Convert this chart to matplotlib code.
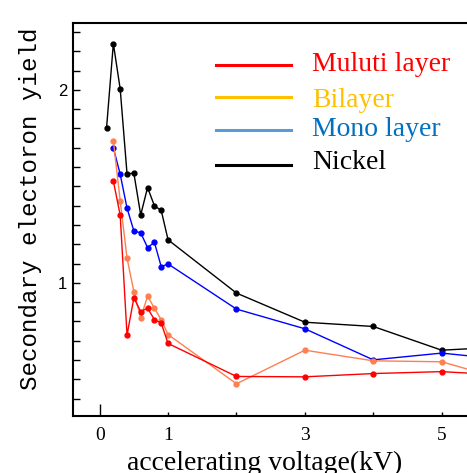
import numpy as np
import matplotlib
matplotlib.use("Agg")
from matplotlib import pyplot as plt
from matplotlib.ticker import MultipleLocator, FixedLocator

# accelerating voltage (kV)
volt_ni = [0.1, 0.2, 0.3, 0.4, 0.5, 0.6, 0.7, 0.8, 0.9, 1.0, 2, 3, 4, 5, 6]
volt = [0.2, 0.3, 0.4, 0.5, 0.6, 0.7, 0.8, 0.9, 1.0, 2, 3, 4, 5, 6]

nickel = [1.80, 2.24, 2.005, 1.565, 1.568, 1.352, 1.494, 1.40, 1.375, 1.223,
          0.947, 0.796, 0.774, 0.651, 0.67]
mono = [1.70, 1.563, 1.387, 1.269, 1.259, 1.183, 1.21, 1.084, 1.098,
        0.864, 0.762, 0.601, 0.636, 0.60]
bilayer = [1.737, 1.426, 1.128, 0.955, 0.819, 0.931, 0.869, 0.808, 0.732,
           0.477, 0.651, 0.596, 0.591, 0.49]
multi = [1.528, 1.351, 0.729, 0.922, 0.851, 0.869, 0.81, 0.791, 0.686,
         0.515, 0.513, 0.530, 0.54, 0.52]

legend_labels = ["Muluti layer", "Bilayer", "Mono layer", "Nickel"]
legend_line_colors = ["#FF0000", "#FFC000", "#5B9BD5", "#000000"]
legend_text_colors = ["#FF0000", "#FFC000", "#0070C0", "#000000"]

fig = plt.figure(figsize=(4.67, 4.73), dpi=100)
ax = fig.add_axes([0.1563, 0.1205, 0.8437, 0.831])

ms = 3.5
ax.plot(volt_ni, nickel, color="black", lw=1, marker="o", ms=ms)
ax.plot(volt, mono, color="#0000FF", lw=1, marker="o", ms=ms)
ax.plot(volt, bilayer, color="#FF7F50", lw=1, marker="o", ms=ms)
ax.plot(volt, multi, color="#FF0000", lw=1, marker="o", ms=ms)

ax.set_xlim(-0.39, 5.37)
ax.set_ylim(0.31, 2.347)

ax.spines["right"].set_visible(False)
for s in ["left", "top", "bottom"]:
    ax.spines[s].set_linewidth(1.5)

# x ticks: every kV, labels only on 0, 1, 3, 5
ax.xaxis.set_major_locator(FixedLocator([0, 1, 3, 5]))
ax.xaxis.set_minor_locator(FixedLocator([2, 4]))
ax.set_xticklabels(["0", "1", "3", "5"], family="Liberation Serif", fontsize=14)
ax.tick_params(axis="x", which="both", direction="in", length=3, width=1, pad=8)
ax.xaxis.get_major_ticks()[0].tick1line.set_markersize(9)

ax.yaxis.set_major_locator(FixedLocator([1, 2]))
ax.yaxis.set_minor_locator(MultipleLocator(0.1))
ax.set_yticklabels(["1", "2"], family="Liberation Sans", fontsize=12)
ax.tick_params(axis="y", which="both", direction="in", length=5, width=1, pad=4)
ax.tick_params(top=False, right=False)

ax.set_xlabel("accelerating voltage(kV)", family="Liberation Serif", fontsize=20)
ax.xaxis.set_label_coords(0.487, -0.088)
ax.set_ylabel("Secondary electoron yield", family="Liberation Mono", fontsize=17.4)
ax.yaxis.set_label_coords(-0.107, 0.527)
ax.yaxis.label.set_va("center")

# hand-placed legend
rows = [0.893, 0.812, 0.728, 0.639]
text_rows = [0.893, 0.802, 0.728, 0.646]
for lab, lc, tc, yl, yt in zip(legend_labels, legend_line_colors, legend_text_colors, rows, text_rows):
    ax.plot([0.364, 0.553], [yl, yl], transform=ax.transAxes, color=lc, lw=2.2, clip_on=False)
    ax.text(0.607, yt, lab, transform=ax.transAxes, color=tc, family="Liberation Serif",
            fontsize=20, va="center", ha="left")

fig.savefig("out.png", dpi=100)
